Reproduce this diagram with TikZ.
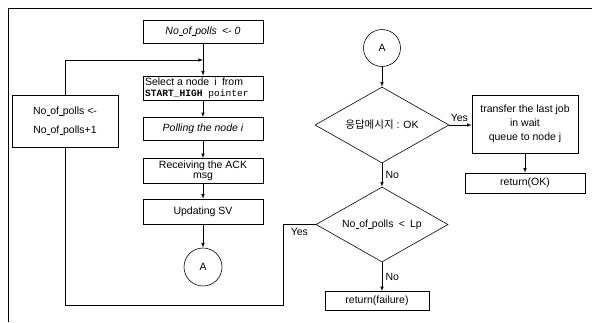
\documentclass[tikz,border=0pt]{standalone}
\usepackage{fontspec}
\setmainfont{Liberation Sans}
\setmonofont{Liberation Mono}
\newfontfamily\krfont{Noto Sans CJK KR}
\usetikzlibrary{shapes.geometric}
\newcommand{\usc}{\kern0.2pt\rule[-0.7pt]{3.4pt}{0.4pt}\kern0.2pt}
\tikzset{
	flowline/.style={line width=0.6pt},
	procbox/.style={draw, flowline, rectangle, minimum width=120pt, minimum height=24pt, inner sep=1pt, align=center},
	decbox/.style={draw, flowline, diamond, aspect=2, inner sep=0pt, minimum width=134pt, minimum height=76pt},
	connbox/.style={draw, flowline, circle, minimum size=37pt, inner sep=0pt},
}
\begin{document}
\begin{tikzpicture}[x=1pt, y=-1pt, font=\fontsize{10.5}{12}\selectfont, >=latex]
	\useasboundingbox (0, 0) rectangle (592, 322);
	\draw[flowline] (8, 322) -- (8, 8) -- (592, 8);
	\node[procbox, minimum height=23pt] (init) at (203, 31.5) {\itshape No\usc of\usc polls\enspace <- 0};
	\node[procbox, text width=116pt, align=justify] (select) at (203, 88) {Select a node\enspace i\enspace from\\[-1pt]{\ttfamily\fontsize{9.6}{10}\selectfont\bfseries START\_HIGH\mdseries\ pointer}};
	\node[procbox, minimum height=23pt] (poll) at (203, 129) {\itshape Polling the node i};
	\node[procbox, minimum height=25pt, font=\fontsize{10.5}{10}\selectfont] (recv) at (203, 171) {Receiving the ACK\\msg};
	\node[procbox, minimum height=25pt] (upd) at (203, 211.5) {Updating SV};
	\node[connbox, minimum size=38pt] (conA1) at (203, 267) {A};
	\node[procbox, minimum width=106pt, minimum height=52pt, font=\fontsize{10.5}{19}\selectfont] (incr) at (65, 121) {No\usc of\usc polls <-\\No\usc of\usc polls+1};
	\coordinate (join) at (203, 60);
	\coordinate (botc) at (65, 305);
	\node[connbox] (conA2) at (382, 48) {A};
	\node[decbox] (dec1) at (382, 125) {{\krfont 응답메시지} : OK};
	\node[procbox, minimum width=106pt, minimum height=58pt, font=\fontsize{10.5}{14}\selectfont] (xfer) at (525, 124) {transfer the last job\\in wait\\queue to node j};
	\node[procbox, minimum height=20pt] (retok) at (525, 183) {return(OK)};
	\node[decbox, minimum width=132pt, minimum height=75pt] (dec2) at (382, 224.5) {No\usc of\usc polls\enspace<\enspace Lp};
	\node[procbox, minimum width=104pt, minimum height=19pt] (retfail) at (377, 301) {return(failure)};
	\coordinate (yesc) at (283, 224.5);
	\draw[flowline, ->] (init) -- (select);
	\draw[flowline, ->] (incr.north) |- (join);
	\draw[flowline, ->] (select) -- (poll);
	\draw[flowline, ->] (poll) -- (recv);
	\draw[flowline, ->] (recv) -- (upd);
	\draw[flowline, ->] (upd) -- (conA1);
	\draw[flowline, ->] (conA2) -- (dec1);
	\draw[flowline, ->] (dec1.east) -- node[above, pos=0.45] {Yes} (dec1.east -| xfer.west);
	\draw[flowline, ->] (xfer) -- (retok);
	\draw[flowline, ->] (dec1.south) -- node[right] {No} (dec2.north);
	\draw[flowline, ->] (dec2.south) -- node[right] {No} (dec2.south |- retfail.north);
	\draw[flowline] (dec2.west) -- node[below] {Yes} (yesc) |- (botc) -- (incr.south);
\end{tikzpicture}
\end{document}
